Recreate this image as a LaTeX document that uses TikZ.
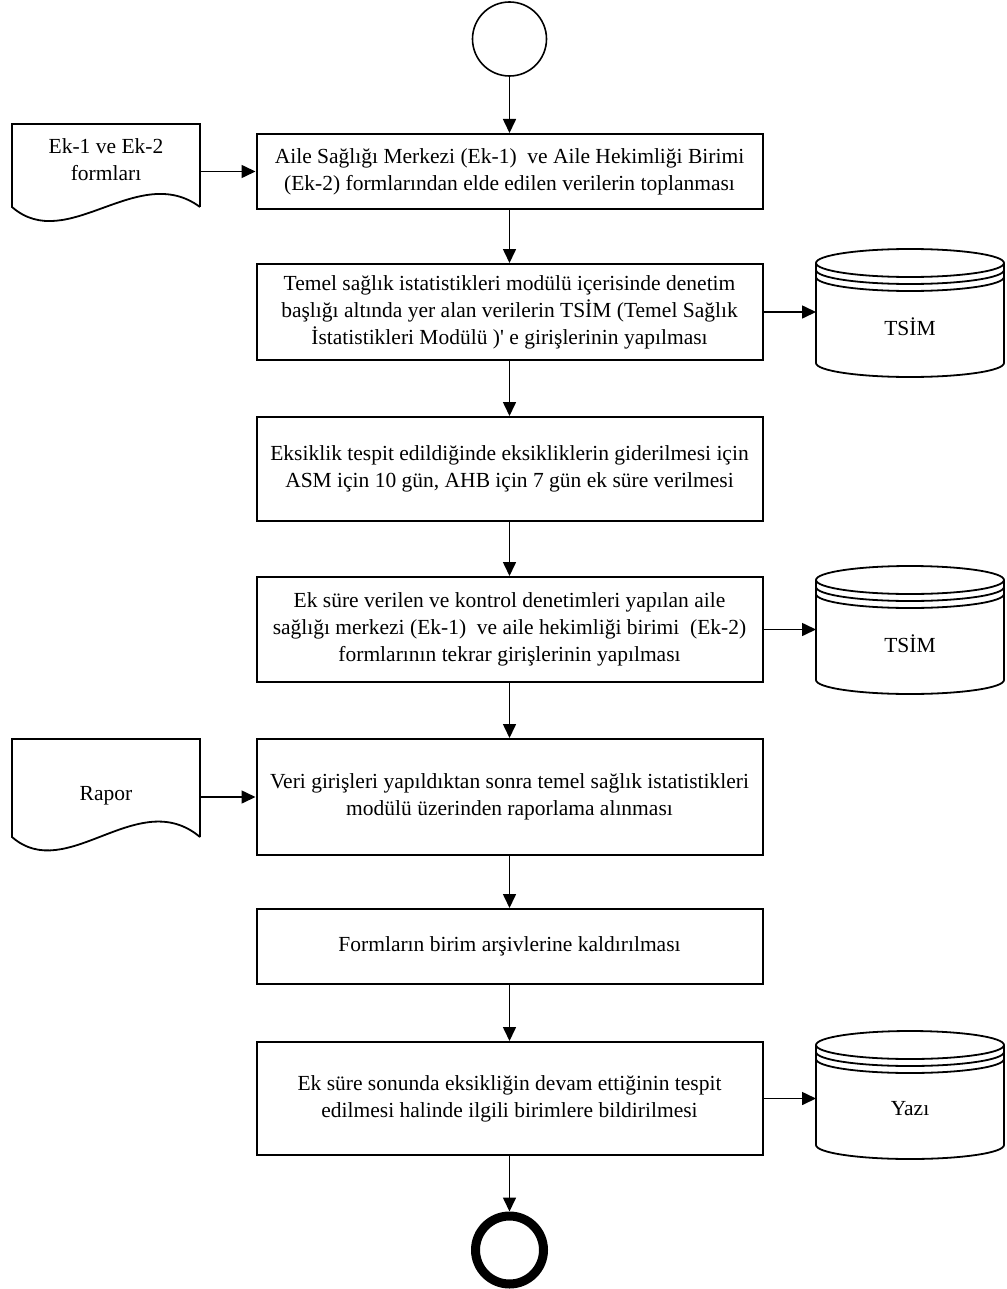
\documentclass[tikz,border=0pt]{standalone}
\usepackage{fontspec}
\setmainfont{Liberation Serif}
\usetikzlibrary{arrows.meta}

% drum-shaped data store: name, centre y of the top rim, label
\newcommand\dbstore[3]{%
  \node[region, minimum height=128pt] (#1) at (910,#2+50) {};
  \draw[storeline] (910,#2) ellipse [x radius=94, y radius=14];
  \draw[storeline] (816,#2+7) arc [start angle=180, end angle=0, x radius=94, y radius=14];
  \draw[storeline] (816,#2+14) arc [start angle=180, end angle=0, x radius=94, y radius=14];
  \draw[storeline] (816,#2) -- (816,#2+100)
     arc [start angle=180, end angle=0, x radius=94, y radius=14] -- (1004,#2);
  \node[lbl] (#1text) at (910,#2+64) {#3};
}

\begin{document}
\begin{tikzpicture}[x=1pt,y=-1pt,
  flow/.style={-{Triangle[length=14pt,width=13pt]}, line width=1.6pt},
  procbox/.style={draw, line width=2pt, minimum width=506pt, inner sep=0pt,
    align=center, font=\fontsize{21.5}{27}\selectfont},
  region/.style={inner sep=0pt, outer sep=0pt, minimum width=188pt},
  lbl/.style={align=center, font=\fontsize{21.5}{27}\selectfont},
  docshape/.style={line width=1.8pt},
  storeline/.style={line width=1.8pt}
]
\useasboundingbox (0,0) rectangle (1006,1289);

% start and end events
\node[circle, draw, line width=1.6pt, minimum size=74pt, inner sep=0pt] (startc) at (509.5,39) {};
\node[circle, draw, line width=9pt, minimum size=68pt, inner sep=0pt] (endc) at (509.5,1250) {};

% process steps
\node[procbox, minimum height=75pt] (p1) at (509.5,171.5)
  {Aile Sağlığı Merkezi (Ek-1)\ \ ve Aile Hekimliği Birimi\\(Ek-2) formlarından elde edilen verilerin toplanması};
\node[procbox, minimum height=96pt] (p2) at (509.5,312)
  {Temel sağlık istatistikleri modülü içerisinde denetim\\başlığı altında yer alan verilerin TSİM (Temel Sağlık\\İstatistikleri Modülü )\textquotesingle\ e girişlerinin yapılması};
\node[procbox, minimum height=104pt] (p3) at (509.5,469)
  {Eksiklik tespit edildiğinde eksikliklerin giderilmesi için\\ASM için 10 gün, AHB için 7 gün ek süre verilmesi};
\node[procbox, minimum height=105pt] (p4) at (509.5,629.5)
  {Ek süre verilen ve kontrol denetimleri yapılan aile\\sağlığı merkezi (Ek-1)\ \ ve aile hekimliği birimi\ \ (Ek-2)\\formlarının tekrar girişlerinin yapılması};
\node[procbox, minimum height=116pt] (p5) at (509.5,797)
  {Veri girişleri yapıldıktan sonra temel sağlık istatistikleri\\modülü üzerinden raporlama alınması};
\node[procbox, minimum height=75pt] (p6) at (509.5,946.5)
  {Formların birim arşivlerine kaldırılması};
\node[procbox, minimum height=113pt] (p7) at (509.5,1098.5)
  {Ek süre sonunda eksikliğin devam ettiğinin tespit\\edilmesi halinde ilgili birimlere bildirilmesi};

% documents with wavy lower edge
\node[region, minimum height=83pt] (d1) at (106,165.5) {};
\draw[docshape] (d1.south east) -- (d1.north east) -- (d1.north west) -- (d1.south west)
  .. controls +(55,48) and +(-62,-46) .. (d1.south east);
\node[lbl] (d1text) at (106,160) {Ek-1 ve Ek-2\\formları};

\node[region, minimum height=98pt] (d2) at (106,788) {};
\draw[docshape] (d2.south east) -- (d2.north east) -- (d2.north west) -- (d2.south west)
  .. controls +(55,48) and +(-62,-52) .. (d2.south east);
\node[lbl] (d2text) at (106,796) {Rapor};

% data stores
\dbstore{c1}{263}{TSİM}
\dbstore{c2}{580}{TSİM}
\dbstore{c3}{1045}{Yazı}

% main flow
\draw[flow] (startc) -- (p1);
\draw[flow] (p1) -- (p2);
\draw[flow] (p2) -- (p3);
\draw[flow] (p3) -- (p4);
\draw[flow] (p4) -- (p5);
\draw[flow] (p5) -- (p6);
\draw[flow] (p6) -- (p7);
\draw[flow] (p7) -- (endc);

% side inputs and outputs
\draw[flow] (d1.east |- p1) -- (p1);
\draw[flow] (d2.east |- p5) -- (p5);
\draw[flow] (p2) -- (p2 -| c1.west);
\draw[flow] (p4) -- (p4 -| c2.west);
\draw[flow] (p7) -- (p7 -| c3.west);
\end{tikzpicture}
\end{document}
